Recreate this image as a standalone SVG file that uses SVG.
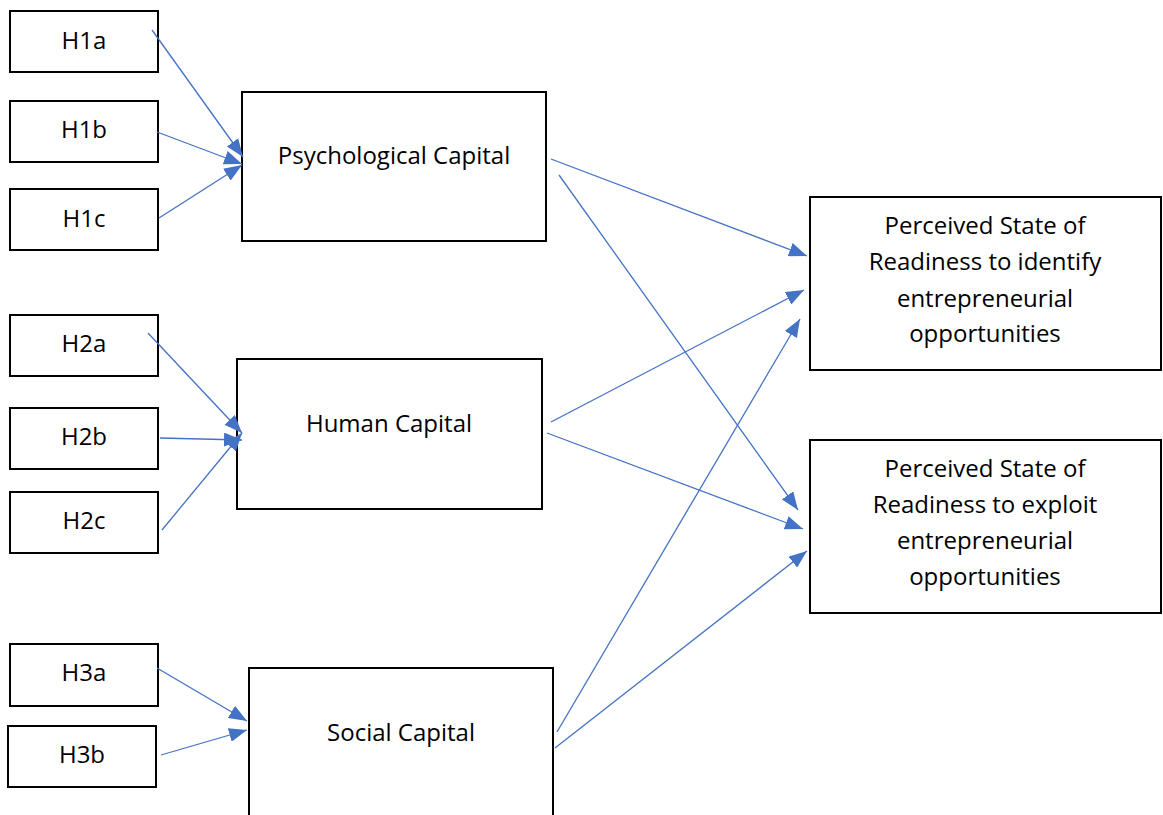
<svg xmlns="http://www.w3.org/2000/svg" width="1163" height="815" viewBox="0 0 1163 815">
  <style>
    .box { fill: #ffffff; stroke: #000000; stroke-width: 2; }
    .lbl { font-family: "Open Sans", "Noto Sans", sans-serif; font-size: 24px; fill: #000000; text-anchor: middle; }
    .link { stroke: #4472C4; stroke-width: 1.3; fill: none; marker-end: url(#head); }
  </style>
  <defs>
    <marker id="head" markerUnits="userSpaceOnUse" markerWidth="18" markerHeight="14" refX="18" refY="7" orient="auto">
      <path d="M0,0 L18,7 L0,14 z" fill="#4472C4"/>
    </marker>
  </defs>
  <rect width="1163" height="815" fill="#ffffff"/>

  <!-- hypothesis boxes -->
  <g id="h1a"><rect class="box" x="10" y="11" width="148" height="61"/><text class="lbl" x="84" y="49">H1a</text></g>
  <g id="h1b"><rect class="box" x="10" y="101" width="148" height="61"/><text class="lbl" x="84" y="138">H1b</text></g>
  <g id="h1c"><rect class="box" x="10" y="189" width="148" height="61"/><text class="lbl" x="84" y="227">H1c</text></g>
  <g id="h2a"><rect class="box" x="10" y="315" width="148" height="61"/><text class="lbl" x="84" y="352">H2a</text></g>
  <g id="h2b"><rect class="box" x="10" y="408" width="148" height="61"/><text class="lbl" x="84" y="445">H2b</text></g>
  <g id="h2c"><rect class="box" x="10" y="492" width="148" height="61"/><text class="lbl" x="84" y="529">H2c</text></g>
  <g id="h3a"><rect class="box" x="10" y="644" width="148" height="62"/><text class="lbl" x="84" y="681">H3a</text></g>
  <g id="h3b"><rect class="box" x="8" y="726" width="148" height="61"/><text class="lbl" x="82" y="763">H3b</text></g>

  <!-- capital constructs -->
  <g id="psychological"><rect class="box" x="242" y="92" width="304" height="149"/><text class="lbl" x="394" y="164">Psychological Capital</text></g>
  <g id="human"><rect class="box" x="237" y="359" width="305" height="150"/><text class="lbl" x="389" y="432">Human Capital</text></g>
  <g id="social"><rect class="box" x="249" y="668" width="304" height="160"/><text class="lbl" x="401" y="741">Social Capital</text></g>

  <!-- outcome constructs -->
  <g id="identify">
    <rect class="box" x="810" y="197" width="351" height="173"/>
    <text class="lbl" x="985" y="234">Perceived State of</text>
    <text class="lbl" x="985" y="270">Readiness to identify</text>
    <text class="lbl" x="985" y="307">entrepreneurial</text>
    <text class="lbl" x="985" y="342">opportunities</text>
  </g>
  <g id="exploit">
    <rect class="box" x="810" y="440" width="351" height="173"/>
    <text class="lbl" x="985" y="477">Perceived State of</text>
    <text class="lbl" x="985" y="513">Readiness to exploit</text>
    <text class="lbl" x="985" y="549">entrepreneurial</text>
    <text class="lbl" x="985" y="585">opportunities</text>
  </g>

  <!-- connectors -->
  <g id="connectors">
    <line class="link" x1="152" y1="30" x2="243" y2="157"/>
    <line class="link" x1="157" y1="132" x2="242" y2="164"/>
    <line class="link" x1="159" y1="218" x2="242" y2="165"/>
    <line class="link" x1="148" y1="333" x2="242" y2="433"/>
    <line class="link" x1="160" y1="438" x2="242" y2="440"/>
    <line class="link" x1="162" y1="530" x2="242" y2="433"/>
    <line class="link" x1="157" y1="668" x2="247" y2="721"/>
    <line class="link" x1="161" y1="755" x2="247" y2="730"/>
    <line class="link" x1="551" y1="159" x2="807" y2="256"/>
    <line class="link" x1="559" y1="175" x2="798" y2="510"/>
    <line class="link" x1="551" y1="422" x2="804" y2="290"/>
    <line class="link" x1="547" y1="433" x2="803" y2="529"/>
    <line class="link" x1="557" y1="732" x2="800" y2="319"/>
    <line class="link" x1="555" y1="748" x2="807" y2="551"/>
  </g>
</svg>
